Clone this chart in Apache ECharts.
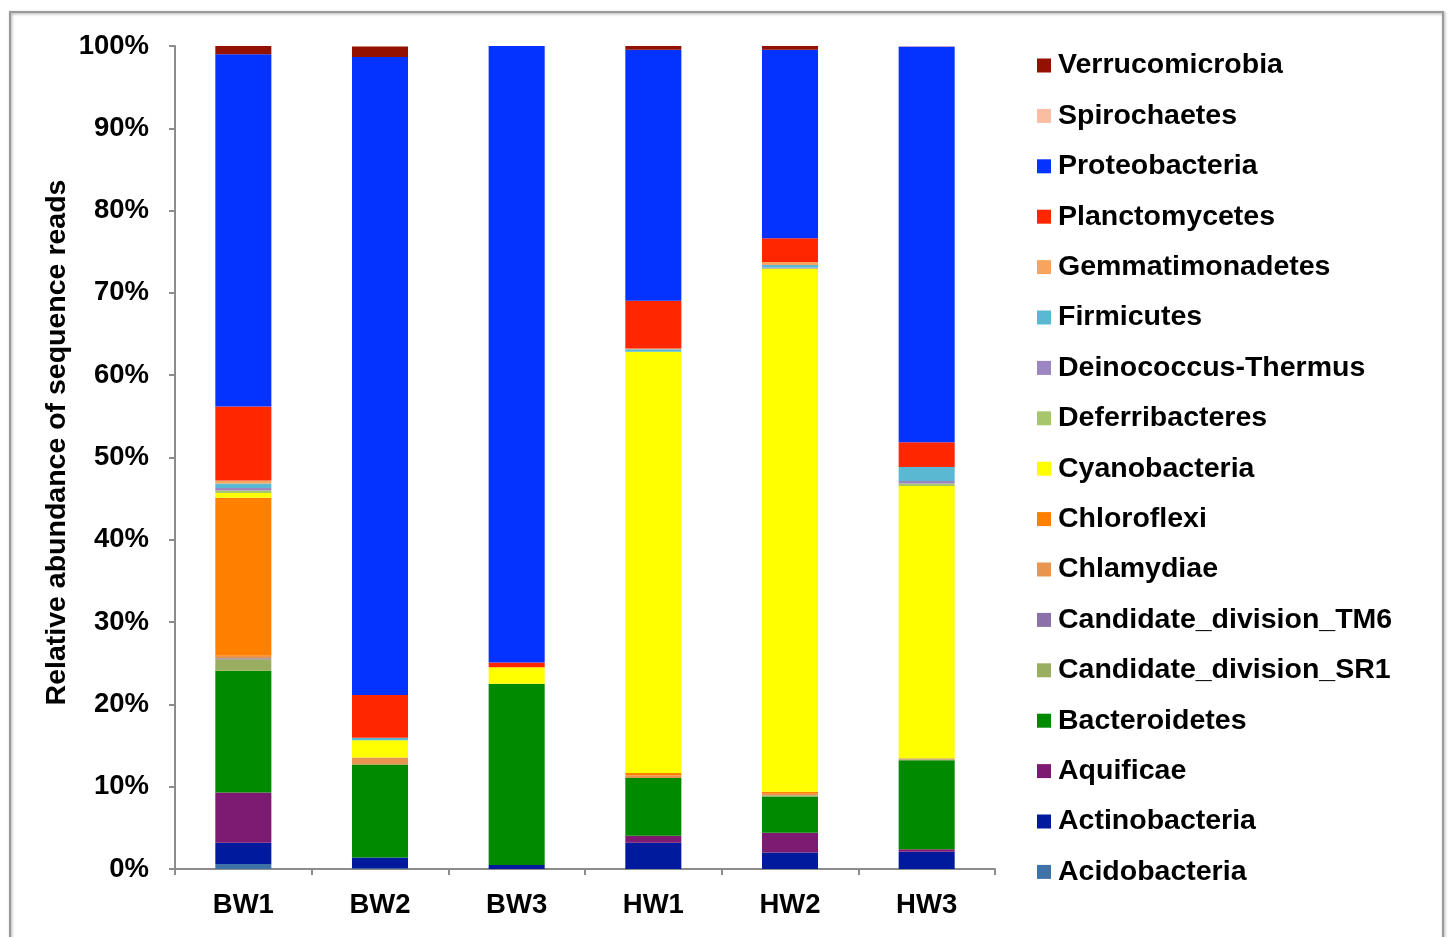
<!DOCTYPE html>
<html>
<head>
<meta charset="utf-8">
<title>Relative abundance of bacterial phyla</title>
<script src="https://cdn.jsdelivr.net/npm/echarts@6/dist/echarts.min.js"></script>
<style>
  html, body { margin: 0; padding: 0; background: #ffffff; }
  #chart { width: 1448px; height: 937px; }
</style>
</head>
<body>
<div id="chart"></div>
<script>
// Sample sites
const samples = ['BW1', 'BW2', 'BW3', 'HW1', 'HW2', 'HW3'];

// Phyla, stacked from the bottom of each bar upward
const phyla = [
  'Acidobacteria', 'Actinobacteria', 'Aquificae', 'Bacteroidetes',
  'Candidate_division_SR1', 'Candidate_division_TM6', 'Chlamydiae',
  'Chloroflexi', 'Cyanobacteria', 'Deferribacteres', 'Deinococcus-Thermus',
  'Firmicutes', 'Gemmatimonadetes', 'Planctomycetes', 'Proteobacteria',
  'Spirochaetes', 'Verrucomicrobia'
];

// Relative abundance (%) per phylum, one value per sample (BW1..HW3)
const acidobacteria        = [0.6, 0.1, 0.0, 0.0, 0.0, 0.0];
const actinobacteria       = [2.6, 1.3, 0.5, 3.2, 2.0, 2.1];
const aquificae            = [6.1, 0.0, 0.0, 0.85, 2.4, 0.3];
const bacteroidetes        = [14.8, 11.3, 22.0, 7.0, 4.4, 10.8];
const candidateSR1         = [1.4, 0.0, 0.0, 0.0, 0.15, 0.15];
const candidateTM6         = [0.1, 0.0, 0.0, 0.0, 0.0, 0.0];
const chlamydiae           = [0.3, 0.85, 0.0, 0.3, 0.2, 0.1];
const chloroflexi          = [19.2, 0.0, 0.0, 0.3, 0.25, 0.0];
const cyanobacteria        = [0.6, 2.1, 2.0, 51.2, 63.5, 33.1];
const deferribacteres      = [0.3, 0.0, 0.0, 0.0, 0.1, 0.3];
const deinococcusThermus   = [0.3, 0.0, 0.0, 0.0, 0.1, 0.3];
const firmicutes           = [0.55, 0.3, 0.0, 0.3, 0.3, 1.7];
const gemmatimonadetes     = [0.35, 0.0, 0.0, 0.1, 0.35, 0.0];
const planctomycetes       = [9.0, 5.2, 0.6, 5.8, 2.9, 3.0];
const proteobacteria       = [42.8, 77.5, 74.9, 30.5, 22.9, 48.1];
const spirochaetes         = [0.0, 0.0, 0.0, 0.0, 0.0, 0.05];
const verrucomicrobia      = [1.1, 1.3, 0.0, 0.45, 0.45, 0.15];

const values = [
  acidobacteria, actinobacteria, aquificae, bacteroidetes, candidateSR1,
  candidateTM6, chlamydiae, chloroflexi, cyanobacteria, deferribacteres,
  deinococcusThermus, firmicutes, gemmatimonadetes, planctomycetes,
  proteobacteria, spirochaetes, verrucomicrobia
];

// Y axis tick values (percent)
const yTicks = [0, 10, 20, 30, 40, 50, 60, 70, 80, 90, 100];

const colors = {
  'Acidobacteria': '#3F72A6',
  'Actinobacteria': '#001A9E',
  'Aquificae': '#7D1A72',
  'Bacteroidetes': '#008A00',
  'Candidate_division_SR1': '#9AAE62',
  'Candidate_division_TM6': '#8C70A8',
  'Chlamydiae': '#E8964F',
  'Chloroflexi': '#FF7F00',
  'Cyanobacteria': '#FFFF00',
  'Deferribacteres': '#A7C66A',
  'Deinococcus-Thermus': '#9C86C2',
  'Firmicutes': '#5AB9D2',
  'Gemmatimonadetes': '#F7A55E',
  'Planctomycetes': '#FF2600',
  'Proteobacteria': '#0432FF',
  'Spirochaetes': '#F9BEA2',
  'Verrucomicrobia': '#931100'
};

const font = '"Liberation Sans", Arial, Helvetica, sans-serif';
const axisGray = '#8c8c8c';

const chart = echarts.init(document.getElementById('chart'), null, { renderer: 'canvas' });

const series = phyla.map((name, i) => ({
  name: name,
  type: 'bar',
  stack: 'total',
  barWidth: '41%',
  data: values[i],
  itemStyle: { color: colors[name] },
  emphasis: { disabled: true }
}));

chart.setOption({
  animation: false,
  backgroundColor: '#ffffff',
  graphic: [{
    type: 'rect',
    shape: { x: 10, y: 12, width: 1433, height: 940 },
    style: { fill: 'none', stroke: '#9a9a9a', lineWidth: 2,
             shadowBlur: 3, shadowColor: 'rgba(0,0,0,0.35)', shadowOffsetX: 1, shadowOffsetY: 1 },
    z: -1,
    silent: true
  }],
  grid: { left: 175, right: 453, top: 46, bottom: 68, containLabel: false },
  legend: {
    orient: 'vertical',
    left: 1032,
    top: 46,
    data: phyla.slice().reverse(),
    icon: 'rect',
    itemWidth: 14,
    itemHeight: 14,
    itemGap: 21.4,
    textStyle: { fontFamily: font, fontWeight: 'bold', fontSize: 28.5, color: '#000', lineHeight: 28, padding: [0, 0, 0, 2] },
    selectedMode: false
  },
  xAxis: {
    type: 'category',
    data: samples,
    axisLine: { lineStyle: { color: axisGray, width: 2 } },
    axisTick: { show: true, length: 6, lineStyle: { color: axisGray, width: 2 } },
    axisLabel: { fontFamily: font, fontWeight: 'bold', fontSize: 27.5, color: '#000', margin: 22 }
  },
  yAxis: {
    type: 'value',
    min: yTicks[0],
    max: yTicks[yTicks.length - 1],
    interval: yTicks[1] - yTicks[0],
    name: 'Relative abundance of sequence reads',
    nameLocation: 'middle',
    nameGap: 103,
    nameMoveOverlap: false,
    nameTextStyle: { fontFamily: font, fontWeight: 'bold', fontSize: 28.5, color: '#000',
                     padding: [0, 0, 0, 30] },
    splitLine: { show: false },
    axisLine: { show: true, lineStyle: { color: axisGray, width: 2 } },
    axisTick: { show: true, length: 6, lineStyle: { color: axisGray, width: 2 } },
    axisLabel: { fontFamily: font, fontWeight: 'bold', fontSize: 27.5, color: '#000', margin: 26,
                 formatter: '{value}%' }
  },
  series: series
});
</script>
</body>
</html>
